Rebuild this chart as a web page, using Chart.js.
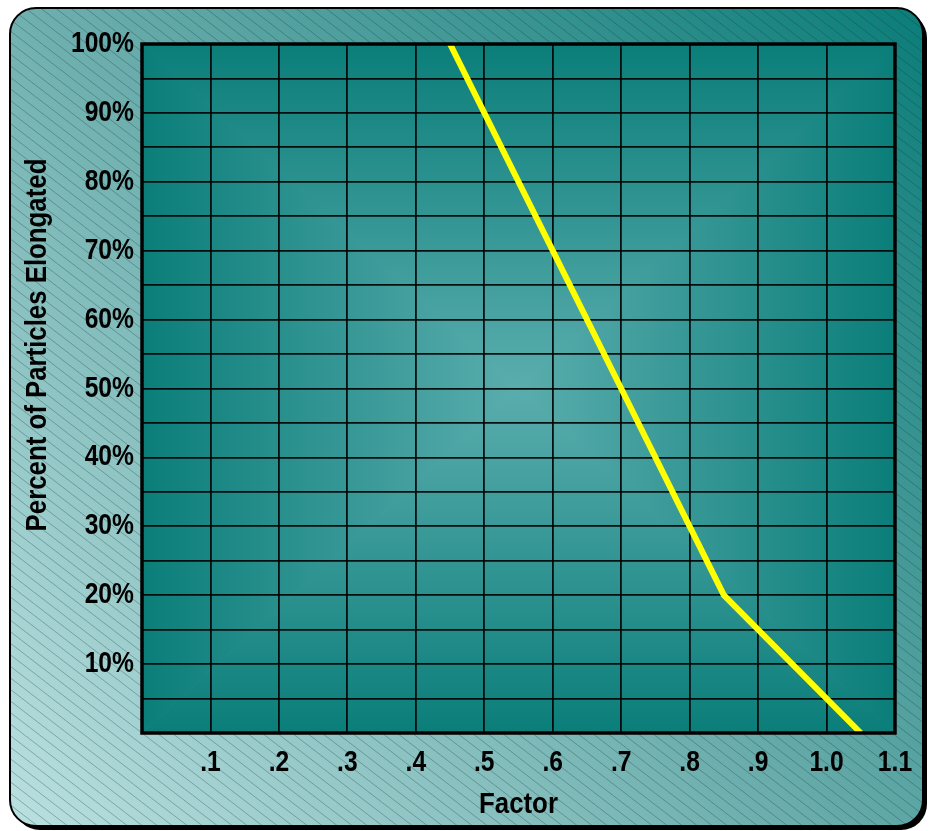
<!DOCTYPE html>
<html>
<head>
<meta charset="utf-8">
<title>Percent of Particles Elongated vs Factor</title>
<script src="https://cdn.jsdelivr.net/npm/chart.js@4.4.1/dist/chart.umd.min.js"></script>
<style>
  html, body { margin: 0; padding: 0; background: #ffffff; }
  #wrap { width: 933px; height: 831px; position: relative; }
</style>
</head>
<body>
<div id="wrap"><canvas id="chart"></canvas></div>
<script>
// Curve readings: factor vs percent of particles elongated
const factor  = [0.45, 0.60, 0.70, 0.80, 0.85, 1.05];
const percent = [100,  70,   50,   30,   20,   0];

// Axis tick labels
const xTickLabels = ['.1', '.2', '.3', '.4', '.5', '.6', '.7', '.8', '.9', '1.0', '1.1'];
const yTickLabels = ['10%', '20%', '30%', '40%', '50%', '60%', '70%', '80%', '90%', '100%'];

const xTitle = 'Factor';
const yTitle = 'Percent of Particles Elongated';

// Bold sans, squeezed horizontally to a narrow face
const FONT = "'Liberation Sans', Arial, Helvetica, sans-serif";
const TICK_FONT = 'bold 29px ' + FONT;
const TITLE_FONT = 'bold 30px ' + FONT;
const SQUEEZE = 0.85;

function xLabel(v) {
  const k = Math.round(v * 10);
  return k > 0 ? (xTickLabels[k - 1] || '') : '';
}
function yLabel(v) {
  const k = Math.round(v / 5);
  if (k % 2 !== 0 || k === 0) return '';
  return yTickLabels[k / 2 - 1] || '';
}

function narrowText(ctx, text, x, y, align, scaleX) {
  ctx.save();
  ctx.translate(x, y);
  ctx.scale(scaleX, 1);
  ctx.textAlign = align;
  ctx.fillText(text, 0, 0);
  ctx.restore();
}

function roundRectPath(ctx, x, y, w, h, r) {
  ctx.beginPath();
  ctx.moveTo(x + r, y);
  ctx.lineTo(x + w - r, y);
  ctx.arcTo(x + w, y, x + w, y + r, r);
  ctx.lineTo(x + w, y + h - r);
  ctx.arcTo(x + w, y + h, x + w - r, y + h, r);
  ctx.lineTo(x + r, y + h);
  ctx.arcTo(x, y + h, x, y + h - r, r);
  ctx.lineTo(x, y + r);
  ctx.arcTo(x, y, x + r, y, r);
  ctx.closePath();
}

// Card behind the chart: shadow, diagonal gradient, hatching, outline; then the plot panel
const backdrop = {
  id: 'backdrop',
  beforeDraw(chart) {
    const ctx = chart.ctx;
    const cx = 10, cy = 8, cw = 913, ch = 818, r = 26;
    ctx.save();
    // drop shadow
    roundRectPath(ctx, cx + 4, cy + 4, cw, ch, r);
    ctx.fillStyle = '#000';
    ctx.fill();
    // card fill
    roundRectPath(ctx, cx, cy, cw, ch, r);
    const g = ctx.createLinearGradient(cx, cy + ch, cx + cw, cy);
    g.addColorStop(0, '#bbe0e0');
    g.addColorStop(0.5, '#67abaa');
    g.addColorStop(1, '#0b7d79');
    ctx.fillStyle = g;
    ctx.fill();
    // hatching
    ctx.save();
    roundRectPath(ctx, cx, cy, cw, ch, r);
    ctx.clip();
    ctx.strokeStyle = 'rgba(20,60,60,0.32)';
    ctx.lineWidth = 1;
    const slope = 0.77;
    for (let x0 = -1200; x0 < 960; x0 += 15) {
      ctx.beginPath();
      ctx.moveTo(x0, 0);
      ctx.lineTo(x0 + 1100, 1100 * slope);
      ctx.stroke();
    }
    ctx.restore();
    // outline
    roundRectPath(ctx, cx, cy, cw, ch, r);
    ctx.strokeStyle = '#000';
    ctx.lineWidth = 2;
    ctx.stroke();

    // plot panel: gradient radiating from the centre out to each side
    const a = chart.chartArea;
    const mx = (a.left + a.right) / 2, my = (a.top + a.bottom) / 2;
    const edge = '#0b7e7a', mid = '#5aadad';
    const tris = [
      [[a.left, a.top], [a.right, a.top], a.left, a.top, a.left, my],
      [[a.right, a.bottom], [a.left, a.bottom], a.left, a.bottom, a.left, my],
      [[a.left, a.bottom], [a.left, a.top], a.left, a.top, mx, a.top],
      [[a.right, a.top], [a.right, a.bottom], a.right, a.top, mx, a.top]
    ];
    tris.forEach(t => {
      const lg = ctx.createLinearGradient(t[2], t[3], t[4], t[5]);
      lg.addColorStop(0, edge);
      lg.addColorStop(1, mid);
      ctx.beginPath();
      ctx.moveTo(t[0][0], t[0][1]);
      ctx.lineTo(t[1][0], t[1][1]);
      ctx.lineTo(mx, my);
      ctx.closePath();
      ctx.fillStyle = lg;
      ctx.fill();
      ctx.strokeStyle = lg;
      ctx.lineWidth = 1;
      ctx.stroke();
    });
    ctx.restore();
  },
  afterDatasetsDraw(chart) {
    const ctx = chart.ctx;
    const a = chart.chartArea;
    const xs = chart.scales.x, ys = chart.scales.y;
    ctx.save();
    ctx.strokeStyle = '#000';
    ctx.lineWidth = 3.5;
    ctx.strokeRect(a.left, a.top, a.right - a.left, a.bottom - a.top);

    ctx.fillStyle = '#000';
    ctx.textBaseline = 'middle';
    // tick labels, placed from the scales' own ticks
    ctx.font = TICK_FONT;
    xs.ticks.forEach(t => {
      const s = xLabel(t.value);
      if (s) narrowText(ctx, s, xs.getPixelForValue(t.value), 763, 'center', SQUEEZE);
    });
    ys.ticks.forEach(t => {
      const s = yLabel(t.value);
      if (s) narrowText(ctx, s, a.left - 8, ys.getPixelForValue(t.value), 'right', SQUEEZE);
    });
    // axis titles
    ctx.font = TITLE_FONT;
    narrowText(ctx, xTitle, (a.left + a.right) / 2, 805, 'center', 0.86);
    ctx.translate(38, 345);
    ctx.rotate(-Math.PI / 2);
    narrowText(ctx, yTitle, 0, 0, 'center', 0.86);
    ctx.restore();
  }
};

const points = factor.map((f, i) => ({ x: f, y: percent[i] }));

new Chart(document.getElementById('chart'), {
  type: 'line',
  data: {
    datasets: [{
      data: points,
      borderColor: '#ffff00',
      borderWidth: 6,
      pointRadius: 0,
      tension: 0,
      fill: false
    }]
  },
  options: {
    responsive: true,
    maintainAspectRatio: false,
    animation: false,
    layout: { padding: { left: 0, top: 44, right: 38, bottom: 0 } },
    plugins: { legend: { display: false }, tooltip: { enabled: false } },
    scales: {
      x: {
        type: 'linear',
        min: 0, max: 1.1,
        afterFit(scale) { scale.height = 98; },
        border: { display: false },
        grid: { color: 'rgba(0,0,0,0.9)', lineWidth: 1.8, drawTicks: false },
        ticks: { stepSize: 0.1, autoSkip: false, display: false }
      },
      y: {
        min: 0, max: 100,
        afterFit(scale) { scale.width = 142; },
        border: { display: false },
        grid: { color: 'rgba(0,0,0,0.9)', lineWidth: 1.8, drawTicks: false },
        ticks: { stepSize: 5, autoSkip: false, display: false }
      }
    }
  },
  plugins: [backdrop]
});
</script>
</body>
</html>
